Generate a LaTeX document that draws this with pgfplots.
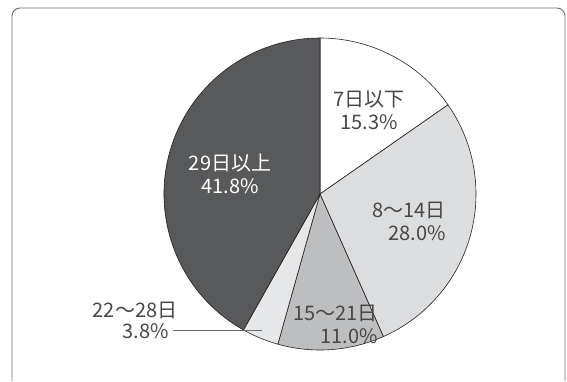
\documentclass[border=0pt]{standalone}
\usepackage{pgfplots}
\pgfplotsset{compat=1.18}
\usepackage{fontspec}
\setmainfont{Noto Sans CJK JP}
\definecolor{c1}{HTML}{FFFFFF}
\definecolor{c2}{HTML}{DCDDDF}
\definecolor{c3}{HTML}{BDBEC0}
\definecolor{c4}{HTML}{E6E7E8}
\definecolor{c5}{HTML}{58595B}
\definecolor{edge}{HTML}{231F20}
\definecolor{frame}{HTML}{6D6E70}
\begin{document}
\begin{tikzpicture}
\begin{axis}[x=1bp,y=1bp,xmin=0,xmax=567,ymin=0,ymax=381,scale only axis,hide axis,clip=false]
\path (axis cs:0,0) rectangle (axis cs:567,381);
\draw[frame, line width=0.9bp, rounded corners=8bp] (axis cs:12,0) -- (axis cs:12,373) -- (axis cs:565,373) -- (axis cs:565,0);
\pgfplotsextra{
  \foreach \v/\c [remember=\e as \s (initially 90), evaluate=\v as \e using \s-\v*360/99.9] in {15.3/c1,28.0/c2,11.0/c3,3.8/c4,41.8/c5}{
    \filldraw[fill=\c, draw=edge, line width=0.6bp, line join=round] (axis cs:320,187) -- ++(\s:156bp) arc[start angle=\s, end angle=\e, radius=156bp] -- cycle;
  }
}
\draw[frame, line width=0.9bp] (axis cs:173,51) -- (axis cs:262,51);
\tikzset{lab/.style={font=\fontsize{20bp}{23bp}\selectfont, align=center, inner sep=0pt, text=black!72}}
\node[lab] at (axis cs:369,271) {7日以下\\15.3\%};
\node[lab, align=right, anchor=east] at (axis cs:446,160) {8～14日\\28.0\%};
\node[lab, align=right, anchor=east] at (axis cs:378,57) {15～21日\\11.0\%};
\node[lab, text=white] at (axis cs:230,207) {29日以上\\41.8\%};
\node[lab] at (axis cs:135,71) {22～28日};
\node[lab, anchor=east] at (axis cs:169,50) {3.8\%};
\end{axis}
\end{tikzpicture}
\end{document}
